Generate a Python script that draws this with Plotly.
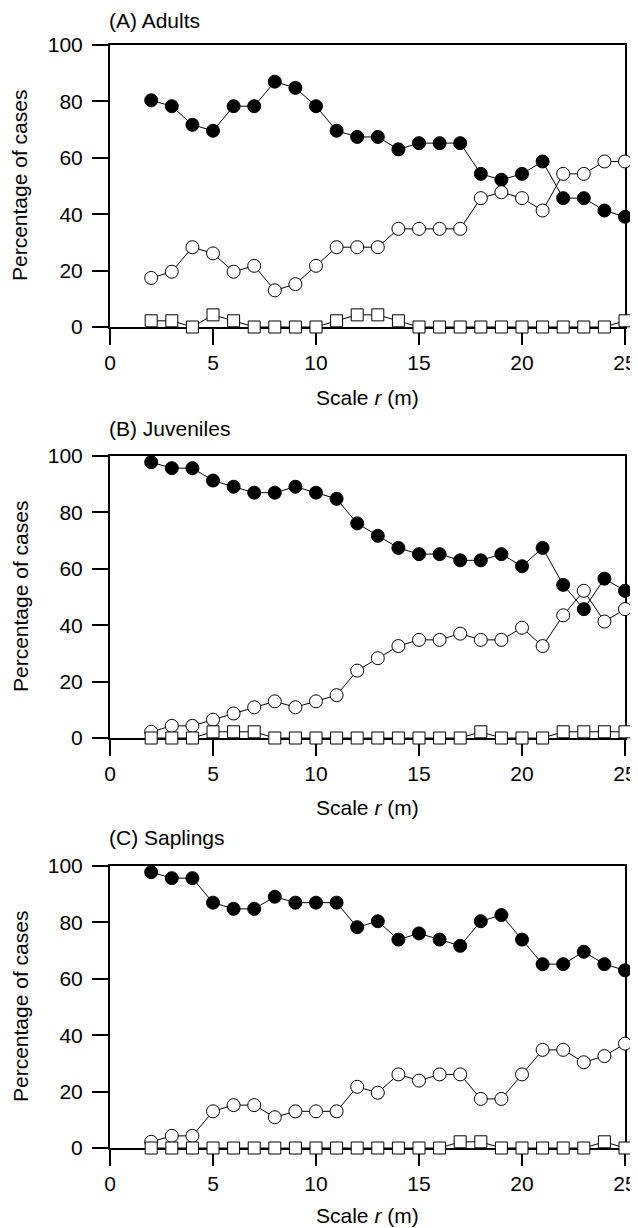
import plotly.graph_objects as go

# ---- data (percentage of cases) ----
scale_r = list(range(2, 26))

adults_filled = [80.4, 78.3, 71.7, 69.6, 78.3, 78.3, 87.0, 84.8, 78.3, 69.6, 67.4, 67.4,
                 63.0, 65.2, 65.2, 65.2, 54.3, 52.2, 54.3, 58.7, 45.7, 45.7, 41.3, 39.1]
adults_open = [17.4, 19.6, 28.3, 26.1, 19.6, 21.7, 13.0, 15.2, 21.7, 28.3, 28.3, 28.3,
               34.8, 34.8, 34.8, 34.8, 45.7, 47.8, 45.7, 41.3, 54.3, 54.3, 58.7, 58.7]
adults_square = [2.2, 2.2, 0.0, 4.3, 2.2, 0.0, 0.0, 0.0, 0.0, 2.2, 4.3, 4.3,
                 2.2, 0.0, 0.0, 0.0, 0.0, 0.0, 0.0, 0.0, 0.0, 0.0, 0.0, 2.2]

juv_filled = [97.8, 95.7, 95.7, 91.3, 89.1, 87.0, 87.0, 89.1, 87.0, 84.8, 76.1, 71.7,
              67.4, 65.2, 65.2, 63.0, 63.0, 65.2, 60.9, 67.4, 54.3, 45.7, 56.5, 52.2]
juv_open = [2.2, 4.3, 4.3, 6.5, 8.7, 10.9, 13.0, 10.9, 13.0, 15.2, 23.9, 28.3,
            32.6, 34.8, 34.8, 37.0, 34.8, 34.8, 39.1, 32.6, 43.5, 52.2, 41.3, 45.7]
juv_square = [0.0, 0.0, 0.0, 2.2, 2.2, 2.2, 0.0, 0.0, 0.0, 0.0, 0.0, 0.0,
              0.0, 0.0, 0.0, 0.0, 2.2, 0.0, 0.0, 0.0, 2.2, 2.2, 2.2, 2.2]

sap_filled = [97.8, 95.7, 95.7, 87.0, 84.8, 84.8, 89.1, 87.0, 87.0, 87.0, 78.3, 80.4,
              73.9, 76.1, 73.9, 71.7, 80.4, 82.6, 73.9, 65.2, 65.2, 69.6, 65.2, 63.0]
sap_open = [2.2, 4.3, 4.3, 13.0, 15.2, 15.2, 10.9, 13.0, 13.0, 13.0, 21.7, 19.6,
            26.1, 23.9, 26.1, 26.1, 17.4, 17.4, 26.1, 34.8, 34.8, 30.4, 32.6, 37.0]
sap_square = [0.0, 0.0, 0.0, 0.0, 0.0, 0.0, 0.0, 0.0, 0.0, 0.0, 0.0, 0.0,
              0.0, 0.0, 0.0, 2.2, 2.2, 0.0, 0.0, 0.0, 0.0, 0.0, 2.2, 0.0]

panel_titles = ["(A) Adults", "(B) Juveniles", "(C) Saplings"]
x_ticks = [0, 5, 10, 15, 20, 25]
y_ticks = [0, 20, 40, 60, 80, 100]

panels = [
    (adults_filled, adults_open, adults_square),
    (juv_filled, juv_open, juv_square),
    (sap_filled, sap_open, sap_square),
]

# ---- layout geometry (page pixels; page body has an 8px margin) ----
OFF = 8
W, H = 638 - OFF, 1228 - OFF
x_left, x_right = 110 - OFF, 625 - OFF
panel_px = [(45 - OFF, 327 - OFF), (456 - OFF, 738 - OFF), (866 - OFF, 1148 - OFF)]
title_px = [21 - OFF, 429 - OFF, 837 - OFF]
xtitle_gap = [70, 70, 67]

FONT = "Liberation Sans, Arial, sans-serif"
FS = 21

fig = go.Figure()
annotations = []
layout_axes = {}

for i, ((f, o, s), (top, bot)) in enumerate(zip(panels, panel_px)):
    n = i + 1
    xa = "x" if n == 1 else f"x{n}"
    ya = "y" if n == 1 else f"y{n}"
    line_style = dict(color="black", width=1)
    fig.add_trace(go.Scatter(
        x=scale_r, y=f, mode="lines+markers", xaxis=xa, yaxis=ya,
        line=line_style, cliponaxis=False, showlegend=False,
        marker=dict(symbol="circle", size=13, color="black",
                    line=dict(color="black", width=1))))
    fig.add_trace(go.Scatter(
        x=scale_r, y=o, mode="lines+markers", xaxis=xa, yaxis=ya,
        line=line_style, cliponaxis=False, showlegend=False,
        marker=dict(symbol="circle", size=13, color="white",
                    line=dict(color="black", width=1))))
    fig.add_trace(go.Scatter(
        x=scale_r, y=s, mode="lines+markers", xaxis=xa, yaxis=ya,
        line=line_style, cliponaxis=False, showlegend=False,
        marker=dict(symbol="square", size=12, color="white",
                    line=dict(color="black", width=1))))

    ydom = [1 - bot / H, 1 - top / H]
    common = dict(showgrid=False, zeroline=False, showline=True, linecolor="black",
                  linewidth=2, mirror=True, ticks="outside", ticklen=16, tickwidth=2,
                  tickcolor="black", automargin=False, layer="below traces",
                  ticklabeloverflow="allow",
                  tickfont=dict(family=FONT, size=FS, color="black"))
    xkey = "xaxis" if n == 1 else f"xaxis{n}"
    ykey = "yaxis" if n == 1 else f"yaxis{n}"
    layout_axes[xkey] = dict(common, domain=[x_left / W, x_right / W], range=[0, 25],
                             tickvals=x_ticks, anchor=ya)
    layout_axes[ykey] = dict(common, domain=ydom, range=[0, 100],
                             tickvals=y_ticks, anchor=xa, ticklabelstandoff=5)

    annotations.append(dict(text=panel_titles[i], xref="paper", yref="paper",
                            x=(107 - OFF) / W, y=1 - title_px[i] / H, xanchor="left", yanchor="middle",
                            showarrow=False, font=dict(family=FONT, size=FS, color="black")))
    annotations.append(dict(text="Scale <i>r</i> (m)", xref="paper", yref="paper",
                            x=(x_left + x_right) / 2 / W, y=1 - (bot + xtitle_gap[i]) / H,
                            xanchor="center", yanchor="middle", showarrow=False,
                            font=dict(family=FONT, size=FS, color="black")))
    annotations.append(dict(text="Percentage of cases", xref="paper", yref="paper",
                            x=(20 - OFF) / W, y=1 - (top + bot) / 2 / H, textangle=-90,
                            xanchor="center", yanchor="middle", showarrow=False,
                            font=dict(family=FONT, size=FS, color="black")))

fig.update_layout(
    template="none",
    width=W, height=H,
    margin=dict(l=0, r=0, t=0, b=0),
    paper_bgcolor="white", plot_bgcolor="white",
    annotations=annotations,
    **layout_axes,
)

fig.write_html("out.html")
